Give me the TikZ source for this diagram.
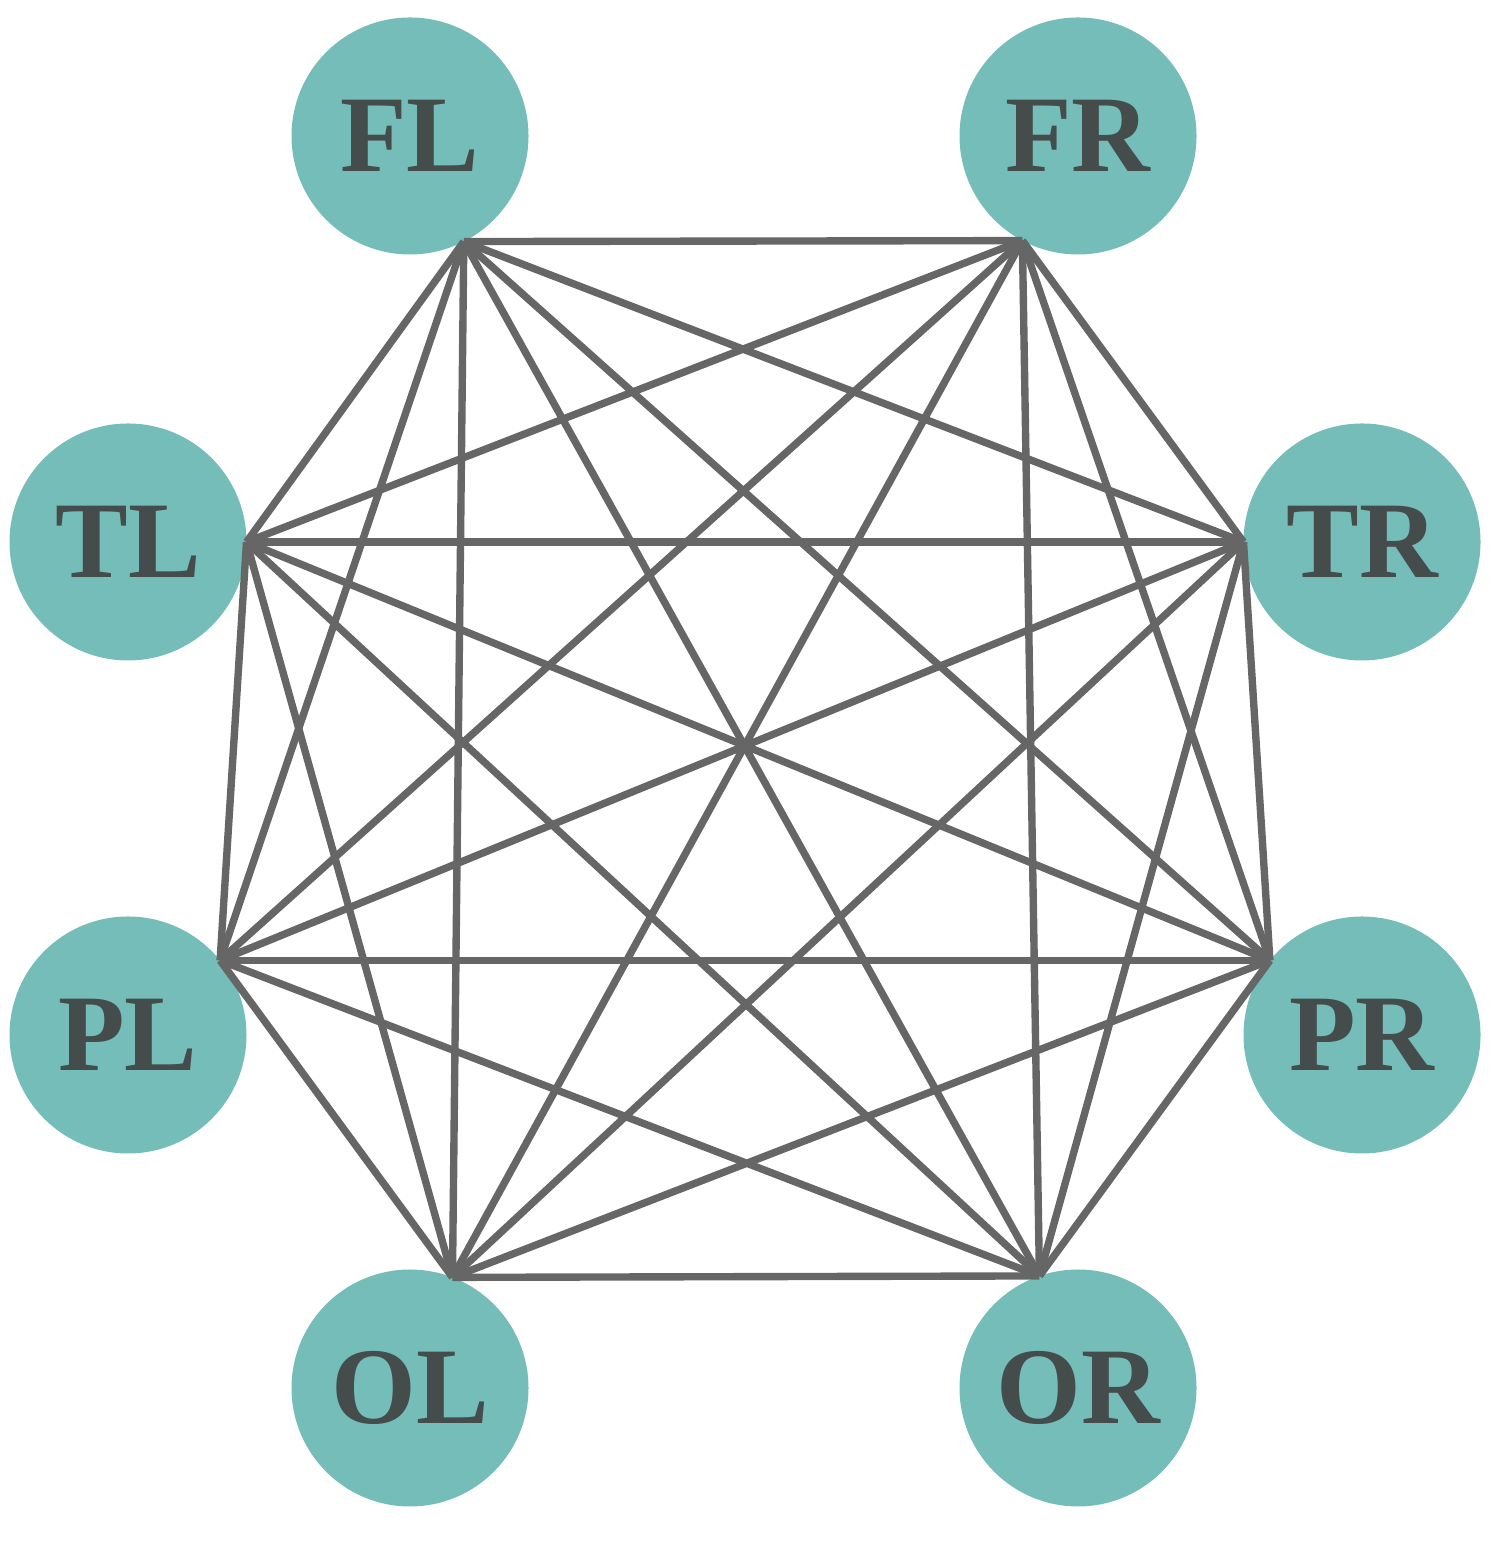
\documentclass[tikz,border=0pt]{standalone}
\usepackage{fontspec}
\setmainfont{Liberation Serif}
\usetikzlibrary{positioning,calc}
\definecolor{tealfill}{HTML}{74BDB8}
\definecolor{labelgray}{HTML}{454C4C}
\definecolor{linkgray}{HTML}{666666}
\tikzstyle{channel} = [circle, fill=tealfill, inner sep=0pt, outer sep=0pt,
minimum size=2.37cm, text=labelgray, font=\fontsize{31}{31}\selectfont\bfseries]
\tikzstyle{link} = [draw, linkgray, line width=2.1pt]

\begin{document}
\begin{tikzpicture}
			\useasboundingbox (0,0) rectangle (15.06,15.42);
			% Place nodes
			\node [channel] (FL) at (4.10,14.06) {FL};
			\node [channel] (FR) at (10.78,14.06) {FR};
			\node [channel] (TL) at (1.28,10.00) {TL};
			\node [channel] (TR) at (13.62,10.00) {TR};
			\node [channel] (PL) at (1.28,5.07) {PL};
			\node [channel] (PR) at (13.62,5.07) {PR};
			\node [channel] (OL) at (4.10,1.54) {OL};
			\node [channel] (OR) at (10.78,1.54) {OR};
			% Hubs where the links meet
			\coordinate (fl) at (FL.-63);
			\coordinate (fr) at (FR.-118);
			\coordinate (tl) at (TL.0);
			\coordinate (tr) at (TR.180);
			\coordinate (pl) at (PL.39);
			\coordinate (pr) at (PR.141);
			\coordinate (ol) at (OL.69);
			\coordinate (or) at (OR.109);
			% Links between every pair
			\foreach \u [count=\i] in {fl,fr,tr,pr,or,ol,pl,tl}
			\foreach \v [count=\j] in {fl,fr,tr,pr,or,ol,pl,tl}
			{\ifnum\j>\i \path [link] (\u) -- (\v); \fi}
		\end{tikzpicture}
\end{document}
